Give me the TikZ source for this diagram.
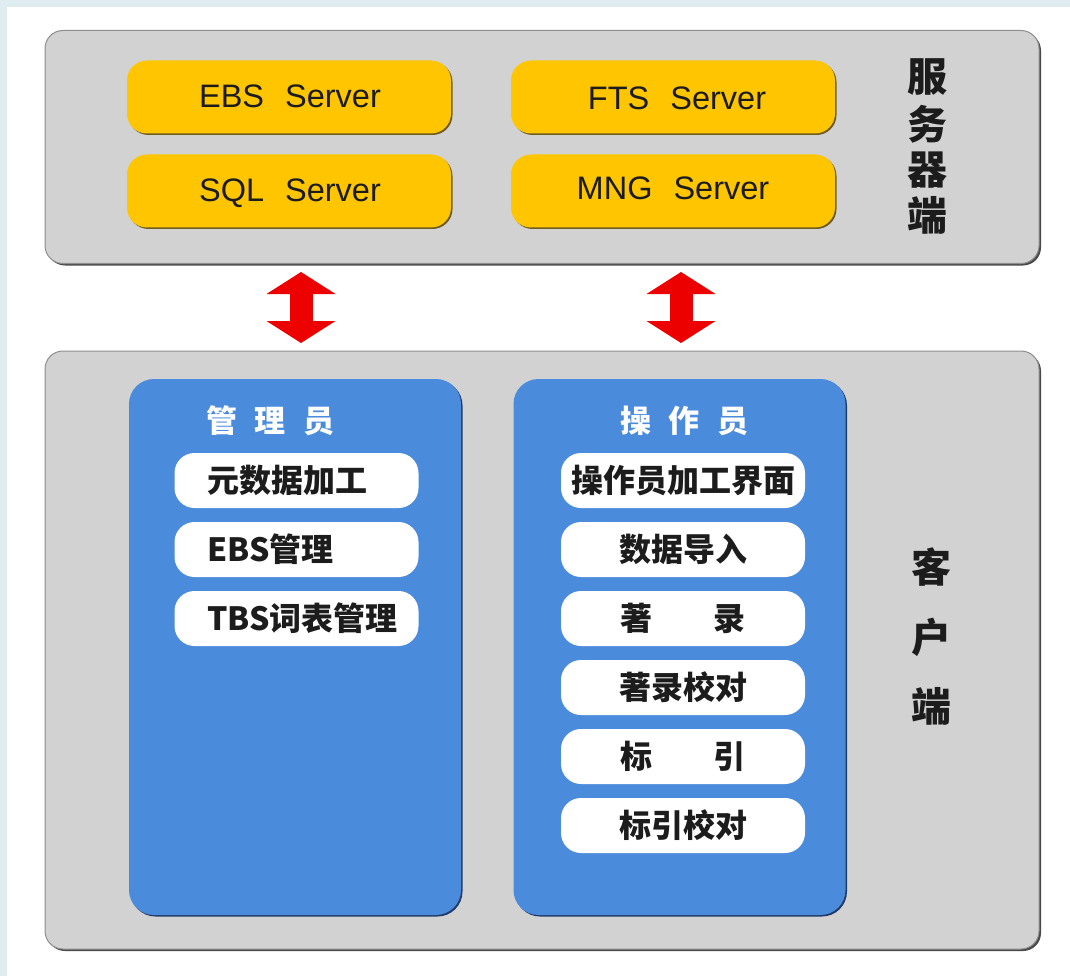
\documentclass[tikz,border=0pt]{standalone}
\usepackage{fontspec}
\setmainfont{Liberation Sans}
\newfontfamily\cjkfont{Noto Sans CJK SC}
\usetikzlibrary{shadows,arrows.meta}
\definecolor{stripc}{HTML}{DFECF0}
\definecolor{panelc}{HTML}{D3D2D3}
\definecolor{panele}{HTML}{8E8E8E}
\definecolor{paneld}{HTML}{4A4A4A}
\definecolor{yellowc}{HTML}{FFC600}
\definecolor{yellowd}{HTML}{6E5C1C}
\definecolor{bluec}{HTML}{4A8BDC}
\definecolor{blued}{HTML}{1F3A66}
\definecolor{redc}{HTML}{EC0000}
\definecolor{inkc}{HTML}{1C1C1C}
\tikzset{
  panelbox/.style={rectangle,rounded corners=18pt,fill=panelc,draw=panele,line width=1pt,
    general shadow={shadow xshift=2pt,shadow yshift=-2pt,fill=paneld},
    inner sep=0pt,minimum width=994pt},
  serverbox/.style={rectangle,rounded corners=20pt,fill=yellowc,
    general shadow={shadow xshift=1.5pt,shadow yshift=-1.5pt,fill=yellowd},
    inner sep=0pt,minimum width=324pt,minimum height=73pt},
  rolebox/.style={rectangle,rounded corners=25pt,fill=bluec,
    general shadow={shadow xshift=1.5pt,shadow yshift=-1.5pt,fill=blued},
    inner sep=0pt,minimum width=332pt,minimum height=536pt},
  pill/.style={rectangle,rounded corners=20pt,fill=white,inner sep=0pt,
    minimum width=244pt,minimum height=55pt,font=\cjkfont\bfseries\fontsize{32}{34}\selectfont,text=inkc},
  leftpill/.style={pill,inner xsep=33pt,text width=178pt,align=left},
  serverlabel/.style={font=\fontsize{32.5}{34}\selectfont,text=inkc,inner sep=0pt,text height=23pt,text depth=0pt},
  roletitle/.style={font=\cjkfont\bfseries\fontsize{31}{34}\selectfont,text=white,inner sep=0pt},
  sidetitle/.style={font=\cjkfont\bfseries\fontsize{40}{44}\selectfont,text=inkc,inner sep=0pt},
  bigarrow/.style={draw=redc,line width=23pt,shorten <=8pt,shorten >=8pt,
    {Triangle[length=22pt,width=68pt,fill=redc]}-{Triangle[length=22pt,width=68pt,fill=redc]}},
}
\begin{document}
\begin{tikzpicture}[x=1pt,y=-1pt]
\useasboundingbox (0,0) rectangle (1070,976);
\fill[white] (0,0) rectangle (1070,976);
\fill[stripc] (0,0) rectangle (1070,7);
\fill[stripc] (0,0) rectangle (7,976);

\node[panelbox,minimum height=233pt] (server) at (542,147) {};
\node[panelbox,minimum height=598pt] (client) at (542,650) {};

\node[serverbox] (ebs) at (289,97) {};
\node[serverbox] (sql) at (289,191) {};
\node[serverbox] (fts) at (673,97) {};
\node[serverbox] (mng) at (673,191) {};
\node[serverlabel] (ebst) at (290,96.5) {EBS\hspace{12pt} Server};
\node[serverlabel] (sqlt) at (290,190) {SQL\hspace{12pt} Server};
\node[serverlabel] (ftst) at (677,98) {FTS\hspace{12pt} Server};
\node[serverlabel] (mngt) at (673,188) {MNG\hspace{12pt} Server};

\node[sidetitle] (s1) at (927,77) {服};
\node[sidetitle] (s2) at (927,124) {务};
\node[sidetitle] (s3) at (927,170) {器};
\node[sidetitle] (s4) at (927,215) {端};

\node[sidetitle] (c1) at (931,567) {客};
\node[sidetitle] (c2) at (931,637) {户};
\node[sidetitle] (c3) at (931,706) {端};

\coordinate (up1) at (301,264);
\coordinate (dn1) at (301,351);
\coordinate (up2) at (681,264);
\coordinate (dn2) at (681,351);
\draw[bigarrow] (up1) -- (dn1);
\draw[bigarrow] (up2) -- (dn2);

\node[rolebox] (admin) at (295,647) {};
\node[rolebox] (oper) at (679.5,647) {};
\node[roletitle] (admint) at (270,421) {管\hspace{17.5pt}理\hspace{17.5pt}员};
\node[roletitle] (opert) at (684,421) {操\hspace{17.5pt}作\hspace{17.5pt}员};

\node[leftpill] (a1) at (296.5,480.5) {元数据加工};
\node[leftpill] (a2) at (296.5,549.5) {\textbf{EBS}管理};
\node[leftpill] (a3) at (296.5,618.5) {\textbf{TBS}词表管理};

\node[pill] (o1) at (683,480.5) {操作员加工界面};
\node[pill] (o2) at (683,549.5) {数据导入\hspace{3pt}};
\node[pill] (o3) at (683,618.5) {著\hspace{62pt}录\hspace{3pt}};
\node[pill] (o4) at (683,687.5) {著录校对\hspace{3pt}};
\node[pill] (o5) at (683,756.5) {标\hspace{62pt}引\hspace{3pt}};
\node[pill] (o6) at (683,825.5) {标引校对\hspace{3pt}};
\end{tikzpicture}
\end{document}
